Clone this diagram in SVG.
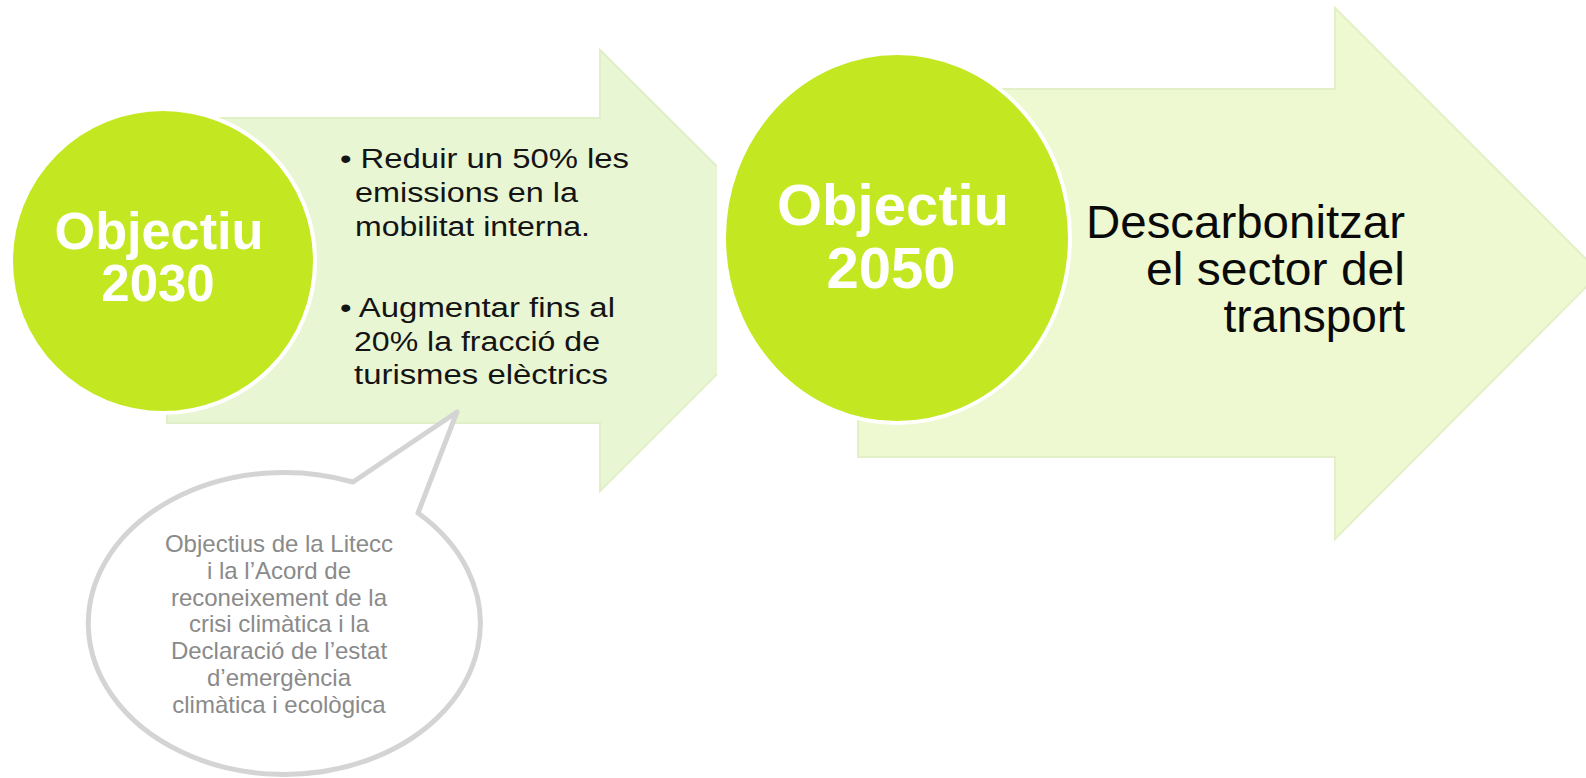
<svg xmlns="http://www.w3.org/2000/svg" width="1586" height="778" viewBox="0 0 1586 778">
<style>
.arrow1{fill:#e9f6d3;stroke:#e0efc8;stroke-width:2}
.arrow2{fill:#eef9d1;stroke:#e3f0c6;stroke-width:2}
.disc{fill:#c3e821;stroke:#ffffff;stroke-width:4}
.head{font-family:"Liberation Sans",Arial,sans-serif;font-weight:bold;fill:#ffffff;text-anchor:middle}
.bul{font-family:"Liberation Sans",Arial,sans-serif;font-size:27px;fill:#141414}
.big{font-family:"Liberation Sans",Arial,sans-serif;font-size:46px;fill:#0a0a0a;text-anchor:end}
.note{font-family:"Liberation Sans",Arial,sans-serif;font-size:24px;fill:#8a8a8a;text-anchor:middle}
.bubble{fill:#ffffff;stroke:#d4d4d4;stroke-width:5;stroke-linejoin:round}
</style>
<defs>
<clipPath id="clip1"><rect x="0" y="0" width="717" height="778"/></clipPath>
</defs>
<rect width="1586" height="778" fill="#ffffff"/>
<g id="arrow-2030">
<polygon class="arrow1" clip-path="url(#clip1)" points="167,118 600,118 600,50 821,270 600,491 600,423 167,423"/>
<text class="bul" x="340" y="168" textLength="289" lengthAdjust="spacingAndGlyphs">• Reduir un 50% les</text>
<text class="bul" x="355" y="202" textLength="223" lengthAdjust="spacingAndGlyphs">emissions en la</text>
<text class="bul" x="355" y="236" textLength="235" lengthAdjust="spacingAndGlyphs">mobilitat interna.</text>
<text class="bul" x="340" y="317" textLength="275" lengthAdjust="spacingAndGlyphs">• Augmentar fins al</text>
<text class="bul" x="354" y="351" textLength="246" lengthAdjust="spacingAndGlyphs">20% la fracció de</text>
<text class="bul" x="354" y="384" textLength="254" lengthAdjust="spacingAndGlyphs">turismes elèctrics</text>
</g>
<g id="circle-2030">
<circle class="disc" cx="163" cy="261" r="152"/>
<text class="head" font-size="51"><tspan x="159" y="249" textLength="209" lengthAdjust="spacingAndGlyphs">Objectiu</tspan><tspan x="158" y="301">2030</tspan></text>
</g>
<g id="arrow-2050">
<polygon class="arrow2" points="858,89 1335,89 1335,8 1600,273 1335,539 1335,457 858,457"/>
<text class="big"><tspan x="1405" y="238" textLength="319" lengthAdjust="spacingAndGlyphs">Descarbonitzar</tspan><tspan x="1405" y="285" textLength="259" lengthAdjust="spacingAndGlyphs">el sector del</tspan><tspan x="1405" y="332">transport</tspan></text>
</g>
<g id="circle-2050">
<ellipse class="disc" cx="897" cy="238" rx="173" ry="185"/>
<text class="head" font-size="58"><tspan x="893" y="225">Objectiu</tspan><tspan x="891" y="288">2050</tspan></text>
</g>
<g id="bubble">
<path class="bubble" d="M353,482 L457,412 L418,513 A196,151 0 1 1 353,482 Z"/>
<text class="note"><tspan x="279" y="552">Objectius de la Litecc</tspan><tspan x="279" y="579">i la l’Acord de</tspan><tspan x="279" y="606">reconeixement de la</tspan><tspan x="279" y="632">crisi climàtica i la</tspan><tspan x="279" y="659">Declaració de l’estat</tspan><tspan x="279" y="686">d’emergència</tspan><tspan x="279" y="713">climàtica i ecològica</tspan></text>
</g>
<g id="connectors"></g>
</svg>
